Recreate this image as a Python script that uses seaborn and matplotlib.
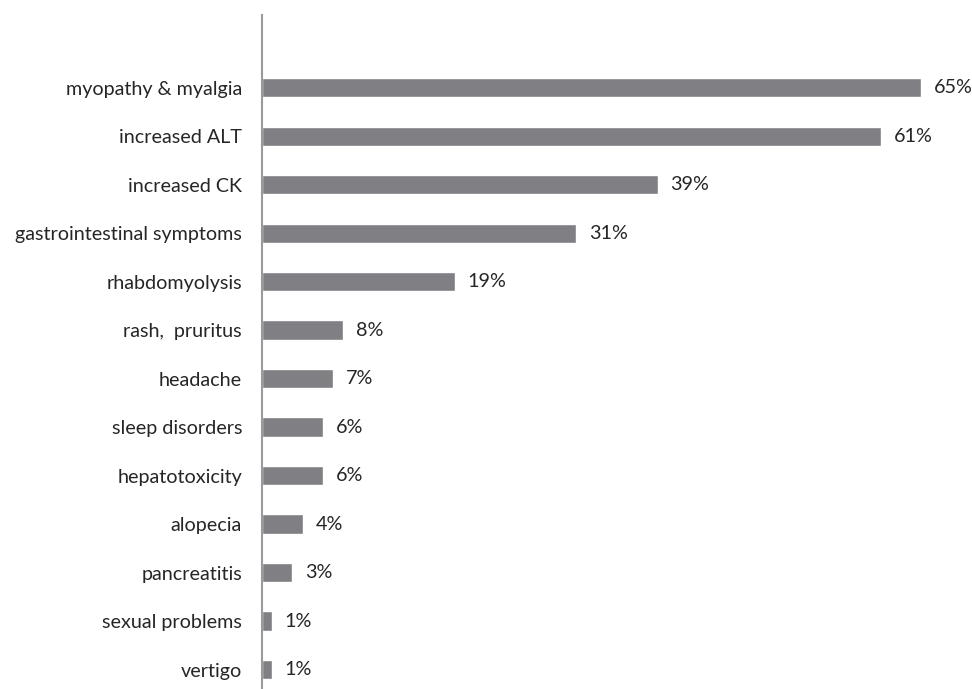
import pandas as pd
import numpy as np
import matplotlib.pyplot as plt
import seaborn as sns

categories = ['myopathy & myalgia', 'increased ALT', 'increased CK', 'gastrointestinal symptoms',
              'rhabdomyolysis', 'rash,  pruritus', 'headache', 'sleep disorders', 'hepatotoxicity',
              'alopecia', 'pancreatitis', 'sexual problems', 'vertigo']
percent = [65, 61, 39, 31, 19, 8, 7, 6, 6, 4, 3, 1, 1]

df = pd.DataFrame({'effect': categories, 'percent': percent})

sns.set_style('white')
plt.rcParams['font.family'] = ['Lato', 'DejaVu Sans']

fig = plt.figure(figsize=(9.72, 6.89), dpi=100)
ax = fig.add_axes([262 / 972, 0, 1 - 262 / 972, 1 - 15 / 689])

sns.barplot(data=df, x='percent', y='effect', orient='h', color='#808084',
            saturation=1, width=0.4, ax=ax)

# percentage labels right of each bar
for i, v in enumerate(percent):
    ax.text(v + 1.25, i, f'{v}%', va='center', ha='left', fontsize=14.2, color='#262626')

ax.set_xlim(0, 70)
ax.set_ylim(12.4, -1.5)
ax.set_xlabel('')
ax.set_ylabel('')
ax.set_xticks([])
ax.tick_params(axis='y', length=0, pad=14.4, labelsize=14.2, labelcolor='#262626')
for s in ['top', 'right', 'bottom']:
    ax.spines[s].set_visible(False)
ax.spines['left'].set_color('#9a9a9a')
ax.spines['left'].set_linewidth(1.5)

plt.savefig('out.png', dpi=100)
